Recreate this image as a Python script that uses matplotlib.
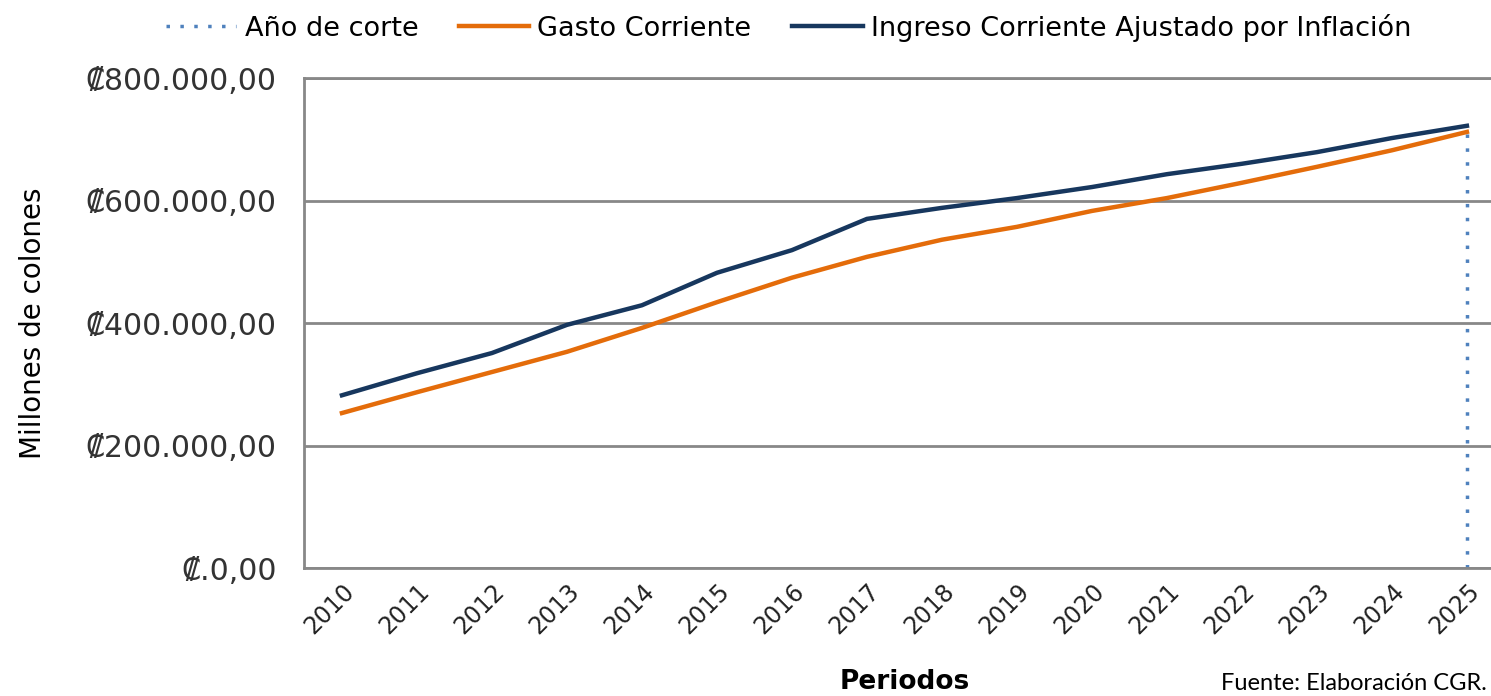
import matplotlib.pyplot as plt
from matplotlib.ticker import FuncFormatter

years = ['2010', '2011', '2012', '2013', '2014', '2015', '2016', '2017',
         '2018', '2019', '2020', '2021', '2022', '2023', '2024', '2025']
gasto = [253, 287, 320, 353, 392, 434, 474, 508,
         536, 557, 583, 604, 629, 655, 682, 712]
ingreso = [282, 318, 351, 397, 429, 482, 519, 570,
           588, 604, 622, 643, 660, 679, 702, 722]
corte_year = 15
corte_value = 712
yticks = [0, 200, 400, 600, 800]

plt.rcParams['font.family'] = ['DejaVu Sans']

fig = plt.figure(figsize=(14.91, 6.96), dpi=100)
ax = fig.add_axes([0.2042, 0.1839, 0.8048, 0.704])

x = list(range(len(years)))
ax.vlines(corte_year, 0, corte_value, colors='#4f81bd', linestyles=(0, (1, 3)),
          linewidth=2.5, label='Año de corte', zorder=2)
ax.plot(x, gasto, color='#e46c0a', linewidth=3.2, label='Gasto Corriente', zorder=3)
ax.plot(x, ingreso, color='#17375e', linewidth=3.2,
        label='Ingreso Corriente Ajustado por Inflación', zorder=3)


def colones(v, pos):
    if v == 0:
        return '₡.0,00'
    return f'₡{int(v)}.000,00'


ax.set_xlim(-0.5, 15.5)
ax.set_ylim(0, 800)
ax.set_yticks(yticks)
ax.yaxis.set_major_formatter(FuncFormatter(colones))
ax.set_xticks(x)
ax.set_xticklabels(years, rotation=45, ha='right', rotation_mode='anchor',
                   fontsize=17, color='#222222')
ax.tick_params(axis='y', labelsize=21.5, labelcolor='#333333', length=0, pad=20)
ax.tick_params(axis='x', length=0, pad=8)

ax.grid(axis='y', color='#888888', linewidth=2)
ax.set_axisbelow(True)
for side in ['left', 'top', 'bottom']:
    ax.spines[side].set_color('#888888')
    ax.spines[side].set_linewidth(2)
ax.spines['right'].set_visible(False)

ax.set_ylabel('Millones de colones', fontsize=20, labelpad=28)
ax.set_xlabel('Periodos', fontsize=19, fontweight='bold', labelpad=22)

fig.legend(loc='upper left', bbox_to_anchor=(0.095, 1.015), ncol=3, frameon=False,
           fontsize=19.5, handlelength=2.6, handletextpad=0.3, columnspacing=1.5)
fig.text(0.997, 0.003, 'Fuente: Elaboración CGR.', ha='right', va='bottom',
         fontsize=17, family='Lato')

fig.savefig('out.png', dpi=100)
